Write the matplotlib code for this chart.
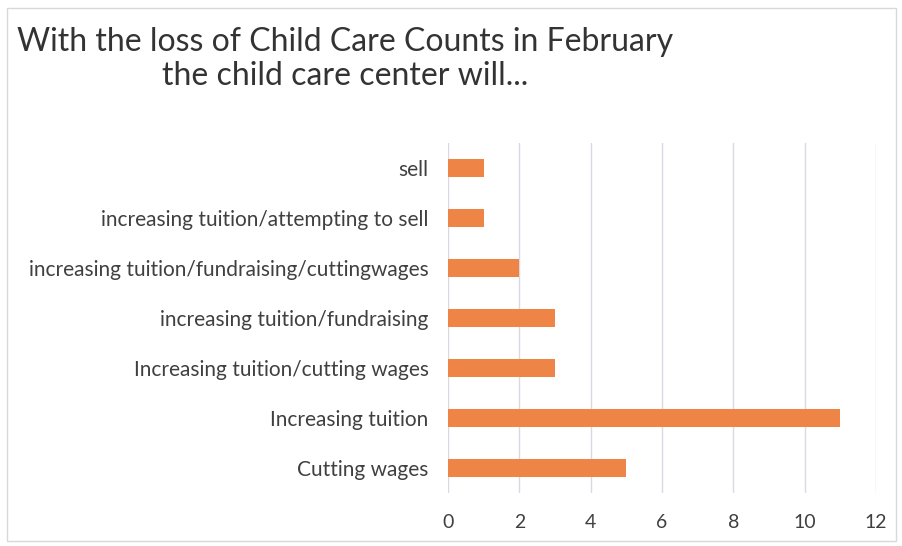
import matplotlib
matplotlib.use("Agg")
import matplotlib.pyplot as plt
from matplotlib.patches import Rectangle

categories = [
    "Cutting wages",
    "Increasing tuition",
    "Increasing tuition/cutting wages",
    "increasing tuition/fundraising",
    "increasing tuition/fundraising/cuttingwages",
    "increasing tuition/attempting to sell",
    "sell",
]
values = [5, 11, 3, 3, 2, 1, 1]
xticks = [0, 2, 4, 6, 8, 10, 12]
title = "With the loss of Child Care Counts in February\nthe child care center will..."

plt.rcParams['font.family'] = ['Lato', 'DejaVu Sans']

fig = plt.figure(figsize=(9.03, 5.46), dpi=100)
ax = fig.add_axes([448/903, 1-493/546, (876-448)/903, (493-143)/546])

ax.barh(range(len(categories)), values, height=0.36, color="#EE8445", zorder=3)
ax.set_yticks(range(len(categories)))
ax.set_yticklabels(categories, fontsize=15, color="#404040")
ax.set_ylim(-0.5, len(categories) - 0.5)
ax.set_xlim(0, 12)
ax.set_xticks(xticks)
ax.set_xticklabels([str(t) for t in xticks], fontsize=14, color="#404040")
ax.tick_params(axis='y', length=0, pad=14)
ax.tick_params(axis='x', length=0, pad=15)
ax.grid(axis='x', color="#D9D9E3", linewidth=1, zorder=0)
for s in ax.spines.values():
    s.set_visible(False)

fig.text(345/903, 1-59/546, title, ha='center', va='center', fontsize=23,
         color="#333333", linespacing=1.15)

fig.patches.append(Rectangle((0.008, 0.01), 0.984, 0.975, transform=fig.transFigure,
                             fill=False, edgecolor="#D8D8D8", linewidth=1))

fig.savefig("out.png", dpi=100)
